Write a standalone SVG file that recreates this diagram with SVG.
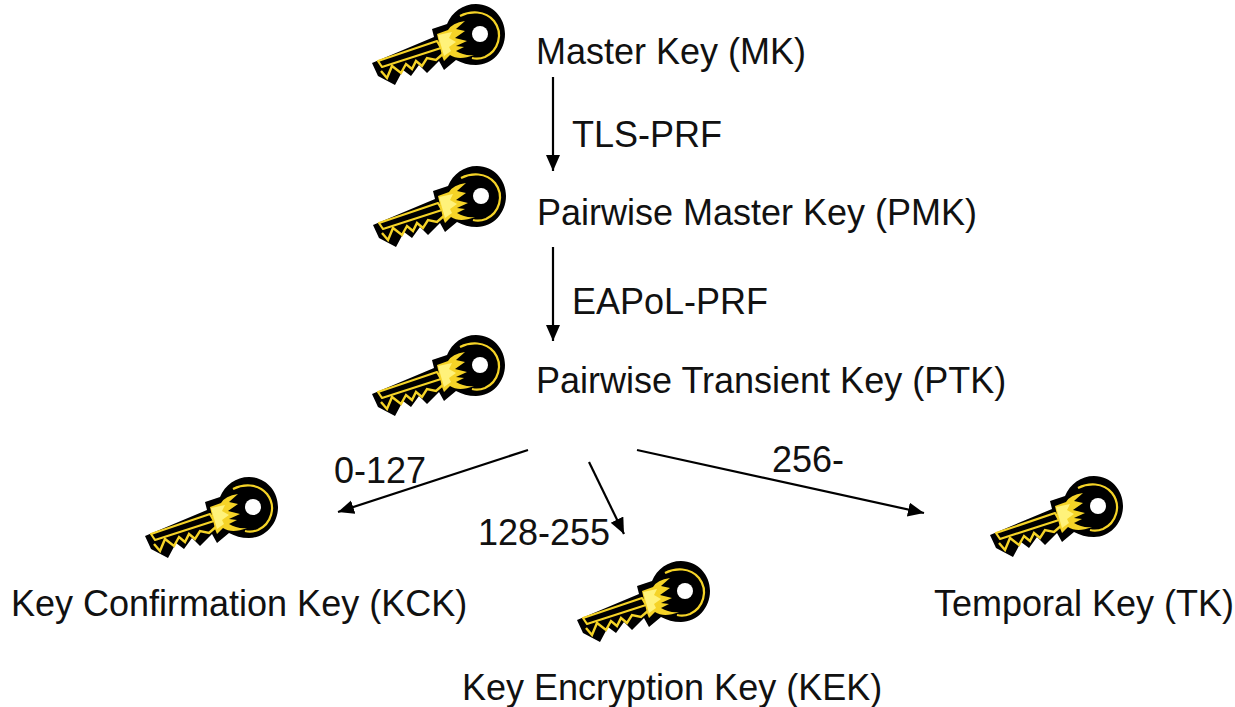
<svg xmlns="http://www.w3.org/2000/svg" width="1235" height="707" viewBox="0 0 1235 707">
<style>
text{font-family:"Liberation Sans",Arial,sans-serif;font-size:36px;fill:#111}
.c{stroke:#000;stroke-width:2.2;fill:none;marker-end:url(#a)}
</style>
<defs>
<marker id="a" markerUnits="userSpaceOnUse" markerWidth="18" markerHeight="18" refX="16" refY="7" orient="auto"><path d="M0 0L16 7L0 14Z" fill="#000"/></marker>
<g id="key">
<path d="M8 62L70 36L68 28L83 23C88 11 99 3 112 3C129 3 141 17 141 33C141 50 128 64 112 64C104 64 98 62 92 59L80 69L75 60L63 72L55 64L47 75L39 69L31 84L14 75Z" fill="#000"/>
<path d="M14 60L73 40L77 47L18 66Z" fill="#000" stroke="#f5d327" stroke-width="2.2" stroke-linejoin="round"/>
<path d="M17 70L23 77L28 65L37 72L42 63L48 68L52 60L58 65L63 57L72 59L80 52" fill="none" stroke="#f5d327" stroke-width="2.4"/>
<path d="M96 15C106 10 121 9 130 20C140 33 134 50 121 56C116 58 112 58 108 57" fill="none" stroke="#f5d327" stroke-width="2.2"/>
<path d="M73 33L84 29Q88 22 101 20L92 28L101 30L91 37L103 40L92 45L100 46L92 50Q100 55 110 54Q95 60 86 54L80 60L78 55Z" fill="#f5d327"/>
<path d="M74 34L88 31L85 37L92 41L85 46L87 50L80 55Z" fill="#fff27a"/>
<circle cx="116" cy="33" r="8" fill="#fff"/>
</g>
</defs>
<g id="connectors">
<path class="c" d="M553 77V171"/>
<path class="c" d="M553 247V341"/>
<path class="c" d="M528 450L338 512"/>
<path class="c" d="M589 462L624 534"/>
<path class="c" d="M637 450L924 513"/>
</g>
<g id="mk"><use href="#key" x="364" y="1"/><text x="536" y="64">Master Key (MK)</text></g>
<g id="pmk"><use href="#key" x="365" y="163"/><text x="537" y="225">Pairwise Master Key (PMK)</text></g>
<g id="ptk"><use href="#key" x="364" y="332"/><text x="536" y="393">Pairwise Transient Key (PTK)</text></g>
<g id="kck"><use href="#key" x="137" y="474"/><text x="11" y="616">Key Confirmation Key (KCK)</text></g>
<g id="kek"><use href="#key" x="569" y="558"/><text x="462" y="700">Key Encryption Key (KEK)</text></g>
<g id="tk"><use href="#key" x="982" y="473"/><text x="934" y="616">Temporal Key (TK)</text></g>
<g id="labels">
<text x="572" y="147">TLS-PRF</text>
<text x="572" y="314">EAPoL-PRF</text>
<text x="334" y="483">0-127</text>
<text x="478" y="545">128-255</text>
<text x="772" y="472">256-</text>
</g>
</svg>
